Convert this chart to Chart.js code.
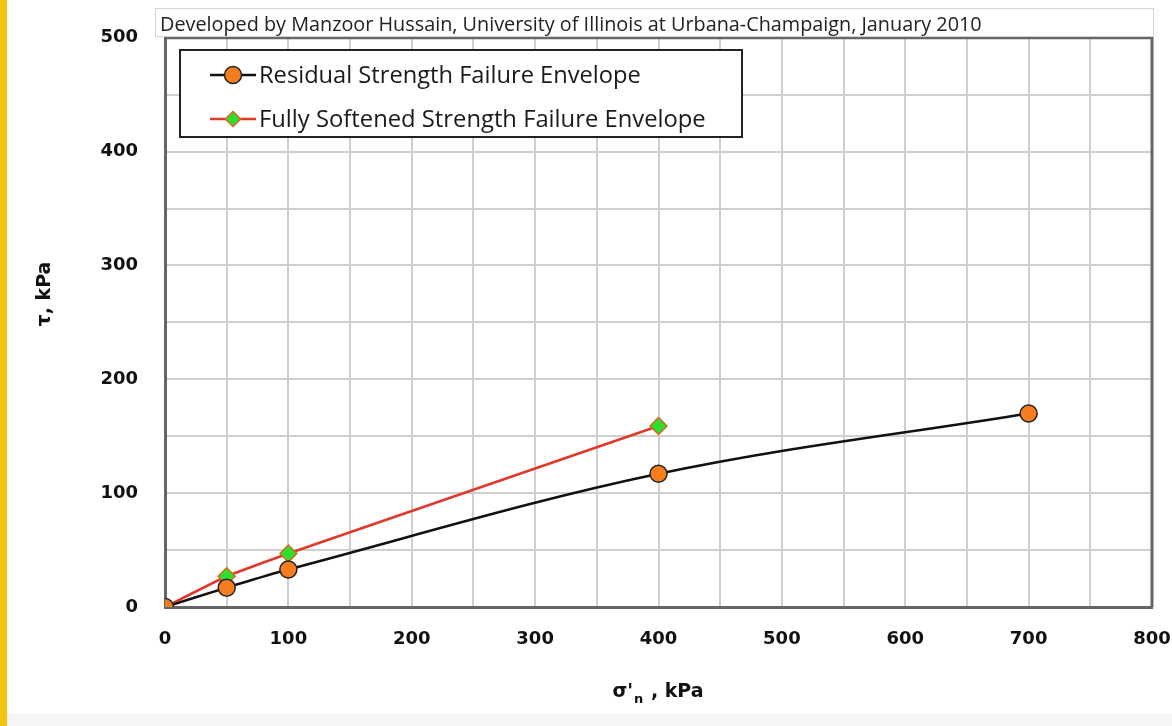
<!DOCTYPE html>
<html>
<head>
<meta charset="utf-8">
<script src="https://cdn.jsdelivr.net/npm/chart.js@4.4.1/dist/chart.umd.min.js"></script>
<style>
  html, body { margin: 0; padding: 0; background: #fff; }
  #wrap { position: relative; width: 1172px; height: 726px; overflow: hidden; }
  #stripe { position: absolute; left: 0; top: 0; width: 7px; height: 726px; background: #f1c40f; }
  #foot { position: absolute; left: 7px; right: 0; top: 714px; height: 12px; background: #f6f6f6; }
  canvas { position: absolute; left: 0; top: 0; }
</style>
</head>
<body>
<div id="wrap">
  <canvas id="chart" width="1172" height="726"></canvas>
  <div id="stripe"></div>
  <div id="foot"></div>
</div>
<script>
// --- DATA ---
const residualX = [0, 50, 100, 400, 700];
const residualY = [0, 17, 33, 117, 170];
const softenedX = [0, 50, 100, 400];
const softenedY = [0, 27, 47, 159];
const seriesNames = ['Residual Strength Failure Envelope', 'Fully Softened Strength Failure Envelope'];
const creditText = 'Developed by Manzoor Hussain, University of Illinois at Urbana-Champaign, January 2010';

const toPoints = (xs, ys) => xs.map((x, i) => ({ x, y: ys[i] }));

// fit a text to a target width by scaling font size
function fitFont(ctx, text, family, weight, target) {
  ctx.font = `${weight} 20px ${family}`;
  const w = ctx.measureText(text).width;
  return 20 * target / w;
}

// header box, legend box, axis titles
const decorPlugin = {
  id: 'decor',
  afterDraw(chart) {
    const ctx = chart.ctx;
    ctx.save();

    // credit box
    ctx.strokeStyle = '#d4d4d4';
    ctx.lineWidth = 1;
    ctx.strokeRect(155.5, 8.5, 998, 28);
    const fs = fitFont(ctx, creditText, '"Open Sans"', 'normal', 822);
    ctx.font = `normal ${fs}px "Open Sans"`;
    ctx.fillStyle = '#222';
    ctx.textBaseline = 'alphabetic';
    ctx.textAlign = 'left';
    ctx.fillText(creditText, 160, 31);

    // legend box
    ctx.fillStyle = '#fff';
    ctx.fillRect(180, 50, 562, 87);
    ctx.strokeStyle = '#222';
    ctx.lineWidth = 2;
    ctx.strokeRect(180, 50, 562, 87);

    const rows = [
      { y: 75, line: '#111', fill: '#f57c1f', border: '#222', style: 'circle', text: seriesNames[0], w: 382 },
      { y: 119, line: '#e0392b', fill: '#2ee02e', border: '#d2691e', style: 'diamond', text: seriesNames[1], w: 447 }
    ];
    rows.forEach(r => {
      ctx.strokeStyle = r.line;
      ctx.lineWidth = 2.5;
      ctx.beginPath();
      ctx.moveTo(210, r.y);
      ctx.lineTo(256, r.y);
      ctx.stroke();
      ctx.fillStyle = r.fill;
      ctx.strokeStyle = r.border;
      ctx.lineWidth = 1.5;
      ctx.beginPath();
      if (r.style === 'circle') {
        ctx.arc(233, r.y, 8.5, 0, Math.PI * 2);
      } else {
        ctx.moveTo(233, r.y - 7.5);
        ctx.lineTo(240.5, r.y);
        ctx.lineTo(233, r.y + 7.5);
        ctx.lineTo(225.5, r.y);
        ctx.closePath();
      }
      ctx.fill();
      ctx.stroke();
      const f = fitFont(ctx, r.text, '"Open Sans"', 'normal', r.w);
      ctx.font = `normal ${f}px "Open Sans"`;
      ctx.fillStyle = '#1a1a1a';
      ctx.textBaseline = 'middle';
      ctx.textAlign = 'left';
      ctx.fillText(r.text, 259, r.y + 1);
    });

    // y axis title
    ctx.fillStyle = '#111';
    ctx.font = 'bold 19px "DejaVu Sans"';
    ctx.translate(45, 294);
    ctx.rotate(-Math.PI / 2);
    ctx.textAlign = 'center';
    ctx.textBaseline = 'middle';
    ctx.fillText('τ, kPa', 0, 0);
    ctx.setTransform(1, 0, 0, 1, 0, 0);

    // x axis title  σ'n , kPa
    ctx.textBaseline = 'alphabetic';
    ctx.textAlign = 'left';
    const a = "σ'";
    const b = 'n';
    const c = ' , kPa';
    ctx.font = 'bold 19px "DejaVu Sans"';
    const wa = ctx.measureText(a).width;
    const wc = ctx.measureText(c).width;
    ctx.font = 'bold 13px "DejaVu Sans"';
    const wb = ctx.measureText(b).width;
    const x0 = 657 - (wa + wb + wc) / 2;
    ctx.font = 'bold 19px "DejaVu Sans"';
    ctx.fillText(a, x0, 697);
    ctx.font = 'bold 13px "DejaVu Sans"';
    ctx.fillText(b, x0 + wa + 1, 703);
    ctx.font = 'bold 19px "DejaVu Sans"';
    ctx.fillText(c, x0 + wa + wb + 2, 697);

    ctx.restore();
  }
};

const tickFont = { family: '"DejaVu Sans"', size: 18, weight: 'bold' };

new Chart(document.getElementById('chart'), {
  type: 'scatter',
  data: {
    datasets: [
      {
        label: seriesNames[0],
        data: toPoints(residualX, residualY),
        showLine: true,
        borderColor: '#111',
        borderWidth: 2.5,
        tension: 0.35,
        pointStyle: 'circle',
        pointRadius: 8.5,
        pointBackgroundColor: '#f57c1f',
        pointBorderColor: '#222',
        pointBorderWidth: 1.5
      },
      {
        label: seriesNames[1],
        data: toPoints(softenedX, softenedY),
        showLine: true,
        borderColor: '#e0392b',
        borderWidth: 2.5,
        tension: 0.1,
        pointStyle: 'rectRot',
        pointRadius: 8.5,
        pointBackgroundColor: '#2ee02e',
        pointBorderColor: '#d2691e',
        pointBorderWidth: 1.5
      }
    ]
  },
  options: {
    responsive: false,
    animation: false,
    layout: { padding: { top: 37, right: 4, left: 0, bottom: 0 } },
    plugins: {
      legend: { display: false },
      tooltip: { enabled: false }
    },
    scales: {
      x: {
        type: 'linear',
        min: 0,
        max: 800,
        afterFit: s => { s.height = 119; s.paddingRight = 20; },
        grid: { color: '#cfcfcf', lineWidth: 2, drawTicks: false },
        border: { color: '#666', width: 3 },
        ticks: {
          stepSize: 50,
          padding: 22,
          color: '#111',
          font: tickFont,
          autoSkip: false,
          maxRotation: 0,
          callback: v => (v % 100 === 0 ? v : '')
        }
      },
      y: {
        type: 'linear',
        min: 0,
        max: 500,
        afterFit: s => { s.width = 165; },
        grid: { color: '#cfcfcf', lineWidth: 2, drawTicks: false },
        border: { color: '#666', width: 3 },
        ticks: {
          stepSize: 50,
          padding: 27,
          color: '#111',
          font: tickFont,
          autoSkip: false,
          callback: v => (v % 100 === 0 ? v : '')
        }
      }
    }
  },
  plugins: [decorPlugin, {
    id: 'frame',
    beforeDatasetsDraw(chart) {
      const { ctx, chartArea: a } = chart;
      ctx.save();
      ctx.strokeStyle = '#666';
      ctx.lineWidth = 3;
      ctx.beginPath();
      ctx.moveTo(a.left, a.top);
      ctx.lineTo(a.right, a.top);
      ctx.lineTo(a.right, a.bottom);
      ctx.stroke();
      ctx.restore();
    }
  }]
});
</script>
</body>
</html>
